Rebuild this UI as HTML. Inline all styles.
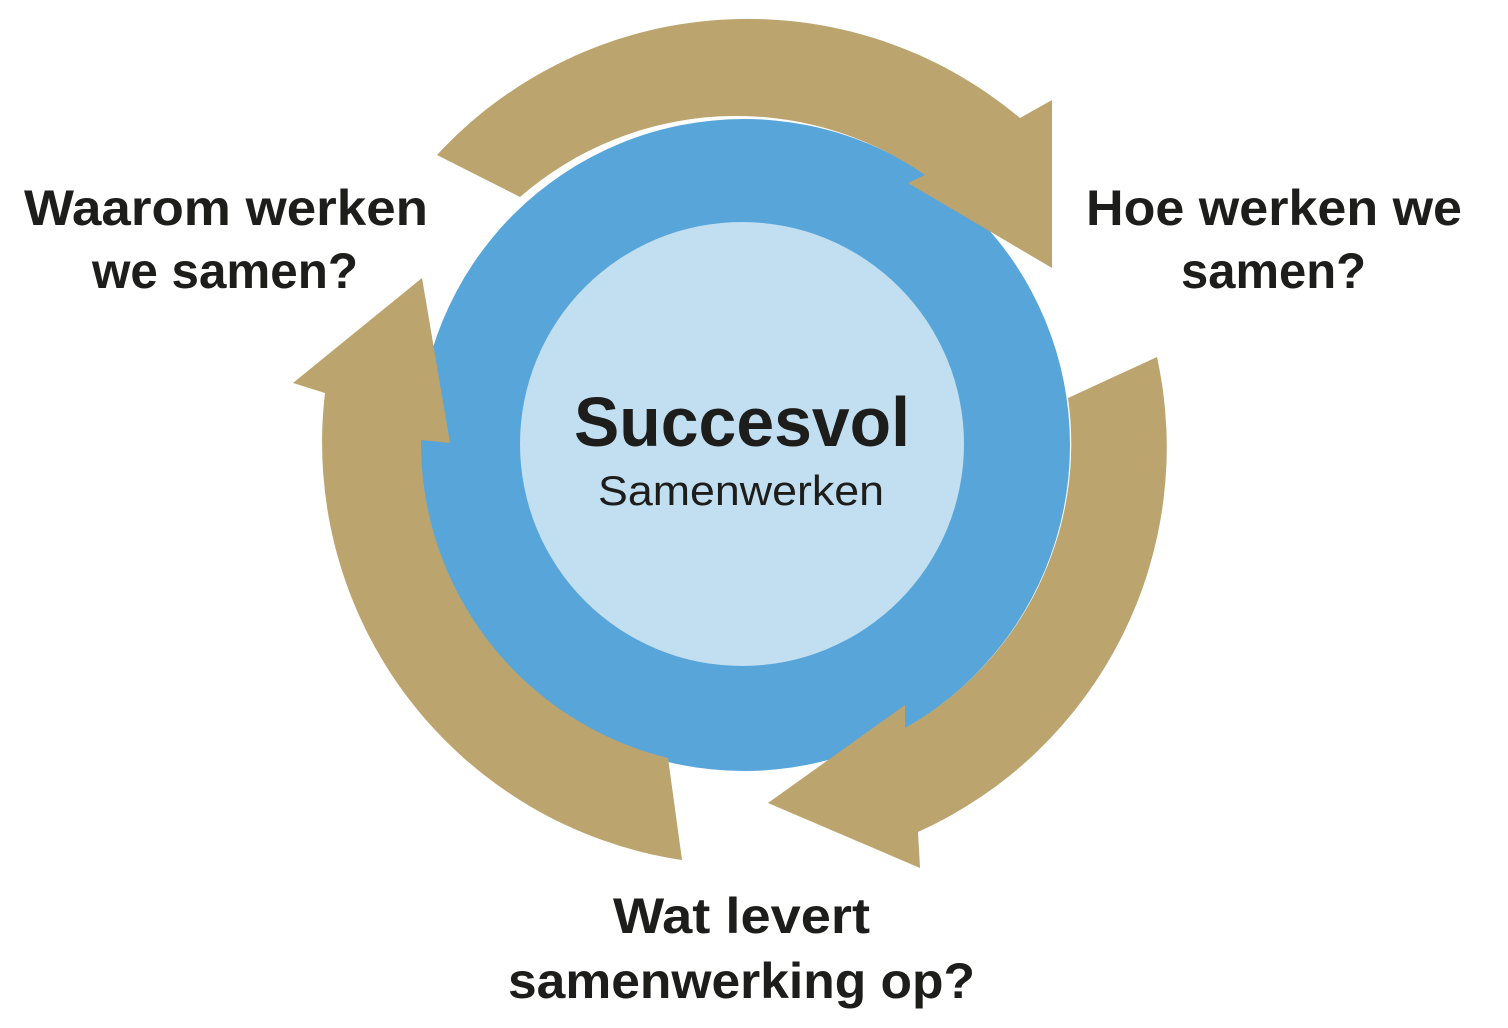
<!DOCTYPE html>
<html><head><meta charset="utf-8"><style>
html,body{margin:0;padding:0;background:#fff;}
svg{display:block;}
text{font-family:"Liberation Sans",sans-serif;fill:#1d1d1b;}
.b{font-weight:bold;font-size:50px;}
</style></head><body>
<svg width="1508" height="1028" viewBox="0 0 1508 1028">
<circle cx="744" cy="445" r="326" fill="#58A6D9"/>
<circle cx="742" cy="444" r="222" fill="#C1DFF0"/>
<g fill="#BBA46E">
<path d="M437,155 A423,423 0 0 1 1020,118 L1052,100 L1052,268 L908,183 L925,175 A330,330 0 0 0 520,197 Z"/>
<path d="M1157,357 A422,422 0 0 1 918,832 L920,868 L768,803 L905,705 L905,728 A326,326 0 0 0 1068,398 Z"/>
<path d="M682,860 A422,422 0 0 1 325,393 L293,383 L422,278 L450,443 L421,440 A324,324 0 0 0 668,758 Z"/>
</g>
<text class="b" x="24" y="225" textLength="404" lengthAdjust="spacingAndGlyphs">Waarom werken</text>
<text class="b" x="92" y="288" textLength="266" lengthAdjust="spacingAndGlyphs">we samen?</text>
<text class="b" x="1086" y="225" textLength="376" lengthAdjust="spacingAndGlyphs">Hoe werken we</text>
<text class="b" x="1181" y="288" textLength="185" lengthAdjust="spacingAndGlyphs">samen?</text>
<text class="b" x="613" y="933" textLength="257" lengthAdjust="spacingAndGlyphs">Wat levert</text>
<text class="b" x="508" y="998" textLength="467" lengthAdjust="spacingAndGlyphs">samenwerking op?</text>
<text x="574" y="446" font-size="70" font-weight="bold" textLength="336" lengthAdjust="spacingAndGlyphs">Succesvol</text>
<text x="598" y="505" font-size="42" textLength="286" lengthAdjust="spacingAndGlyphs">Samenwerken</text>
</svg>
</body></html>
